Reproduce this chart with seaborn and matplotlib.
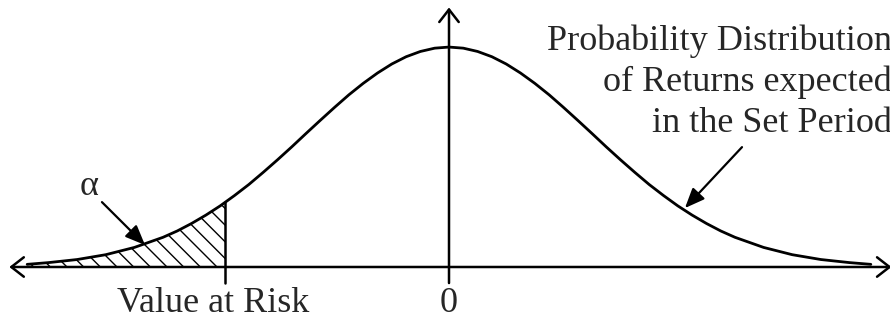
import numpy as np
import pandas as pd
import matplotlib
matplotlib.use("Agg")
import matplotlib.pyplot as plt
import seaborn as sns

# curve of expected returns, x in std units, y relative to the peak
ret_x = [-2.95, -2.8, -2.6, -2.4, -2.2, -2.0, -1.9, -1.8, -1.7, -1.6, -1.5, -1.4, -1.3, -1.2, -1.1,
         -1.0, -0.9, -0.8, -0.7, -0.6, -0.5, -0.4, -0.3, -0.2, -0.1, 0.0,
         0.1, 0.2, 0.3, 0.4, 0.5, 0.6, 0.7, 0.8, 0.9, 1.0,
         1.1, 1.2, 1.3, 1.4, 1.5, 1.6, 1.7, 1.8, 1.9, 2.0, 2.2, 2.4, 2.6, 2.8, 2.95]
ret_y = [0.012, 0.020, 0.034, 0.056, 0.089, 0.135, 0.164, 0.198, 0.236, 0.278, 0.325, 0.375, 0.430, 0.487, 0.546,
         0.607, 0.667, 0.726, 0.783, 0.835, 0.882, 0.923, 0.956, 0.980, 0.995, 1.0,
         0.995, 0.980, 0.956, 0.923, 0.882, 0.835, 0.783, 0.726, 0.667, 0.607,
         0.546, 0.487, 0.430, 0.375, 0.325, 0.278, 0.236, 0.198, 0.164, 0.135, 0.089, 0.056, 0.034, 0.020, 0.012]

# value at risk cut-off and curve height there
var_x = -1.566
var_y = 0.294

var_label = "Value at Risk"
zero_label = "0"
alpha_label = "α"
dist_lines = ["Probability Distribution", "of Returns expected", "in the Set Period"]

df = pd.DataFrame({"x": ret_x, "y": ret_y})

sns.set_style("white")
plt.rcParams["font.family"] = ["Liberation Serif", "DejaVu Serif"]

fig = plt.figure(figsize=(8.9, 3.2), dpi=100)
ax = fig.add_axes([0, 0, 1, 1])
ax.set_xlim(-3.14, 3.084)
ax.set_ylim(-0.241, 1.214)
ax.axis("off")

# hatched tail left of the VaR
tail = df[df["x"] < var_x]
fx = list(tail["x"]) + [var_x]
fy = list(tail["y"]) + [var_y]
ax.fill_between(fx, fy, 0, facecolor="white", edgecolor="black", hatch="\\\\", linewidth=0)

sns.lineplot(data=df, x="x", y="y", color="black", linewidth=2, ax=ax, sort=False)

# axes with open arrow heads
ax.annotate("", xy=(3.095, 0), xytext=(-3.075, 0), annotation_clip=False,
            arrowprops=dict(arrowstyle="<->,head_length=0.45,head_width=0.35", lw=1.8,
                            color="black", shrinkA=0, shrinkB=0, mutation_scale=20))
ax.annotate("", xy=(0, 1.18), xytext=(0, -0.073), annotation_clip=False,
            arrowprops=dict(arrowstyle="->,head_length=0.45,head_width=0.35", lw=1.8,
                            color="black", shrinkA=0, shrinkB=0, mutation_scale=20))

# VaR marker line
ax.plot([var_x, var_x], [var_y, -0.073], color="black", lw=1.8)

# labels
ax.text(-1.65, -0.205, var_label, ha="center", va="baseline", fontsize=26)
ax.text(0, -0.205, zero_label, ha="center", va="baseline", fontsize=26)
ax.text(-2.52, 0.327, alpha_label, ha="center", va="baseline", fontsize=26)

for i, line in enumerate(dist_lines):
    ax.text(3.095, 0.986 - i * 0.186, line, ha="right", va="baseline", fontsize=26)

# pointer arrows
ptr = dict(arrowstyle="-|>,head_length=0.6,head_width=0.25", lw=1.6, color="black",
           shrinkA=0, shrinkB=0, mutation_scale=20)
ax.annotate("", xy=(-2.126, 0.10), xytext=(-2.427, 0.295), arrowprops=ptr)
ax.annotate("", xy=(1.65, 0.268), xytext=(2.049, 0.545), arrowprops=ptr)

fig.savefig("out.png", dpi=100)
